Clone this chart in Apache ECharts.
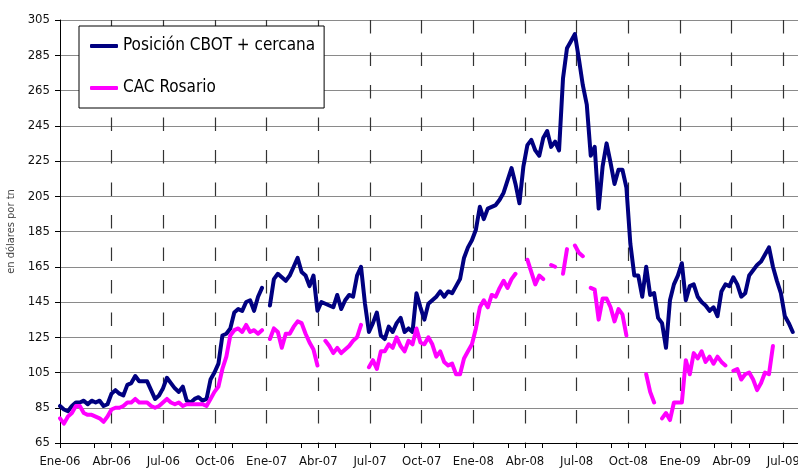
<!DOCTYPE html>
<html>
<head>
<meta charset="utf-8">
<script src="https://cdn.jsdelivr.net/npm/echarts@6.0.0/dist/echarts.min.js"></script>
<style>
html, body { margin: 0; padding: 0; background: #fff; }
#main { width: 798px; height: 472px; }
</style>
</head>
<body>
<div id="main"></div>
<script>
// serie semanal desde la primera semana de enero 2006 (u$s/tn)
var weekMonths = 12 / 52.18; // una semana, en meses

var tickLabels = ['Ene-06', 'Abr-06', 'Jul-06', 'Oct-06', 'Ene-07', 'Abr-07', 'Jul-07', 'Oct-07',
  'Ene-08', 'Abr-08', 'Jul-08', 'Oct-08', 'Ene-09', 'Abr-09', 'Jul-09'];

var cbot = [
  86, 84, 83, 86, 88, 88, 89, 87, 89, 88,
  89, 86, 87, 93, 95, 93, 92, 98, 99, 103,
  100, 100, 100, 95, 90, 92, 96, 102, 99, 96,
  94, 97, 89, 88, 90, 91, 89, 90, 101, 105,
  110, 126, 127, 130, 139, 141, 140, 145, 146, 140,
  148, 153, null, 143, 158, 161, 159, 157, 160, 165,
  170, 162, 160, 154, 160, 140, 145, 144, 143, 142,
  149, 141, 146, 149, 148, 160, 165, 144, 128, 133,
  139, 126, 124, 131, 128, 133, 136, 128, 130, 128,
  150, 142, 135, 144, 146, 148, 151, 148, 151, 150,
  154, 158, 170, 176, 180, 186, 199, 192, 198, 199,
  200, 203, 207, 214, 221, 212, 201, 222, 234, 237,
  231, 228, 238, 242, 233, 236, 231, 272, 289, 293,
  297, 283, 268, 257, 228, 233, 198, 222, 235, 224,
  212, 220, 220, 210, 178, 160, 160, 148, 165, 149,
  150, 136, 133, 119, 146, 155, 160, 167, 146, 154,
  155, 148, 145, 143, 140, 142, 137, 151, 155, 154,
  159, 155, 148, 150, 160, 163, 166, 168, 172, 176,
  165, 157, 150, 137, 133, 128
];

var rosario = [
  79, 76, 80, 82, 86, 86, 82, 81, 81, 80,
  79, 77, 80, 84, 85, 85, 86, 88, 88, 90,
  88, 88, 88, 86, 85, 86, 88, 90, 88, 87,
  88, 86, 87, 87, 87, 87, 87, 86, 90, 94,
  97, 107, 114, 126, 129, 130, 128, 132, 128, 129,
  127, 129, null, 124, 130, 128, 119, 127, 127, 131,
  134, 133, 127, 122, 118, 109, null, 123, 120, 116,
  119, 116, 118, 120, 123, 125, 132, null, 108, 112,
  107, 117, 117, 121, 119, 125, 120, 117, 123, 121,
  130, 122, 121, 125, 121, 114, 117, 111, 109, 110,
  104, 104, 113, 117, 121, 130, 142, 146, 142, 149,
  148, 153, 157, 153, 158, 161, null, null, 169, 162,
  155, 160, 158, null, 166, 165, null, 161, 175, null,
  177, 173, 171, null, 153, 152, 135, 147, 147, 142,
  134, 141, 138, 126, null, null, null, null, 104, 94,
  88, null, 79, 82, 78, 88, 88, 88, 112, 104,
  116, 113, 117, 111, 114, 110, 114, 111, 109, null,
  106, 107, 101, 104, 105, 101, 95, 99, 105, 104,
  120
];

function toPoints(values) {
  return values.map(function (v, i) {
    return [i * weekMonths, v === null ? '-' : v];
  });
}

var font = "'DejaVu Sans Condensed', 'Liberation Sans Narrow', sans-serif";

var myChart = echarts.init(document.getElementById('main'));
var option = {
  animation: false,
  backgroundColor: '#fff',
  grid: { left: 60, right: 0, top: 20, bottom: 29, containLabel: false, outerBoundsMode: 'none' },
  legend: {
    left: 79,
    top: 26,
    orient: 'vertical',
    backgroundColor: '#fff',
    borderColor: '#000',
    borderWidth: 1,
    padding: [9, 9, 9, 11],
    itemGap: 20,
    itemWidth: 28,
    itemHeight: 4,
    icon: 'roundRect',
    textStyle: { fontFamily: font, fontSize: 17, color: '#000', lineHeight: 22 },
    data: ['Posición CBOT + cercana', 'CAC Rosario']
  },
  xAxis: [
    {
      type: 'value',
      position: 'bottom',
      min: 0,
      max: 42.85,
      interval: 3,
      axisLine: { show: true, lineStyle: { color: '#000', width: 1 } },
      axisTick: { show: true, length: 5, lineStyle: { color: '#000' } },
      axisLabel: {
        margin: 12,
        fontFamily: font,
        fontSize: 13,
        color: '#111',
        formatter: function (v) {
          var i = Math.round(v / 3);
          return Math.abs(v - i * 3) < 1e-6 && tickLabels[i] ? tickLabels[i] : '';
        }
      },
      splitLine: {
        show: true,
        showMinLine: false,
        showMaxLine: false,
        lineStyle: { color: '#333', width: 1.2, type: [13.5, 19] }
      }
    },
    {
      // marcas menores cada dos meses
      type: 'value',
      position: 'bottom',
      min: 0,
      max: 42.85,
      interval: 2,
      axisLine: { show: false },
      axisTick: { show: true, length: 5, lineStyle: { color: '#000' } },
      axisLabel: { show: false },
      splitLine: { show: false }
    }
  ],
  yAxis: {
    type: 'value',
    min: 65,
    max: 305,
    interval: 20,
    name: 'en dólares por tn',
    nameLocation: 'middle',
    nameGap: 36,
    nameRotate: 90,
    nameTextStyle: { fontFamily: font, fontSize: 11, color: '#444' },
    axisLine: { show: true, lineStyle: { color: '#000', width: 1 } },
    axisTick: { show: true, length: 5, lineStyle: { color: '#000' } },
    axisLabel: { margin: 10, fontFamily: font, fontSize: 13, color: '#111' },
    splitLine: { show: true, showMinLine: false, lineStyle: { color: '#8a8a8a', width: 1 } }
  },
  series: [
    {
      name: 'Posición CBOT + cercana',
      type: 'line',
      xAxisIndex: 0,
      data: toPoints(cbot),
      showSymbol: false,
      symbol: 'none',
      connectNulls: false,
      color: '#000080',
      lineStyle: { color: '#000080', width: 4, join: 'round', cap: 'round' }
    },
    {
      name: 'CAC Rosario',
      type: 'line',
      xAxisIndex: 0,
      data: toPoints(rosario),
      showSymbol: false,
      symbol: 'none',
      connectNulls: false,
      color: '#ff00ff',
      lineStyle: { color: '#ff00ff', width: 4, join: 'round', cap: 'round' }
    }
  ]
};
myChart.setOption(option);
window.onresize = myChart.resize;
</script>
</body>
</html>
